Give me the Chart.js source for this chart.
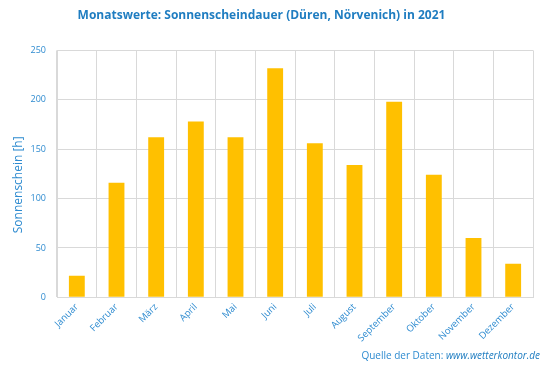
<!DOCTYPE html>
<html>
<head>
<meta charset="utf-8">
<script src="https://cdn.jsdelivr.net/npm/chart.js@4"></script>
<style>
  body { margin: 0; background: #fff; }
  #wrap { position: relative; width: 550px; height: 366px; }
  #source {
    position: absolute; right: 10px; top: 348px;
    font: 10px "Open Sans", sans-serif; color: #2e8bd0;
  }
  #source i { color: #1f7dc1; }
</style>
</head>
<body>
<div id="wrap">
  <canvas id="sun" width="550" height="366"></canvas>
  <div id="source">Quelle der Daten: <i>www.wetterkontor.de</i></div>
</div>
<script>
const months = ['Januar', 'Februar', 'März', 'April', 'Mai', 'Juni', 'Juli',
  'August', 'September', 'Oktober', 'November', 'Dezember']
const sunHours = [22, 116, 162, 178, 162, 232, 156, 134, 198, 124, 60, 34]
const yTicks = [0, 50, 100, 150, 200, 250]

const blue = '#2e8bd0'
const gridColor = '#d9d9d9'

var ctx = document.getElementById('sun')

new Chart(ctx, {
  type: 'bar',
  data: {
    labels: months,
    datasets: [
      {
        data: sunHours,
        backgroundColor: '#ffc000',
        barPercentage: 0.4,
        categoryPercentage: 1
      }
    ]
  },
  options: {
    responsive: false,
    animation: false,
    // negative left padding only to shift the centred title a little left
    layout: {
      padding: { left: -10, right: 17, top: 0, bottom: 18 }
    },
    plugins: {
      legend: { display: false },
      tooltip: { enabled: false },
      title: {
        display: true,
        text: 'Monatswerte: Sonnenscheindauer (Düren, Nörvenich) in 2021',
        color: '#1f7dc1',
        font: { family: 'Open Sans', size: 12, weight: 'bold' },
        padding: { top: 8, bottom: 28 }
      }
    },
    scales: {
      x: {
        grid: { color: gridColor, offset: true, drawTicks: false },
        border: { color: gridColor },
        ticks: {
          color: blue,
          font: { family: 'Open Sans', size: 9.5 },
          minRotation: 45,
          maxRotation: 45,
          padding: 4
        }
      },
      y: {
        min: 0,
        max: 250,
        afterBuildTicks: axis => {
          axis.ticks = yTicks.map(v => ({ value: v }))
        },
        afterFit: axis => {
          axis.width = 67
        },
        grid: { color: gridColor, drawTicks: false },
        border: { color: gridColor },
        title: {
          display: true,
          // trailing spaces push the title a bit below the axis centre
          text: 'Sonnenschein [h]       ',
          color: blue,
          font: { family: 'Open Sans', size: 12 },
          padding: { top: 21, bottom: 0 }
        },
        ticks: {
          color: blue,
          font: { family: 'Open Sans', size: 9 },
          padding: 11
        }
      }
    }
  }
})
</script>
</body>
</html>
